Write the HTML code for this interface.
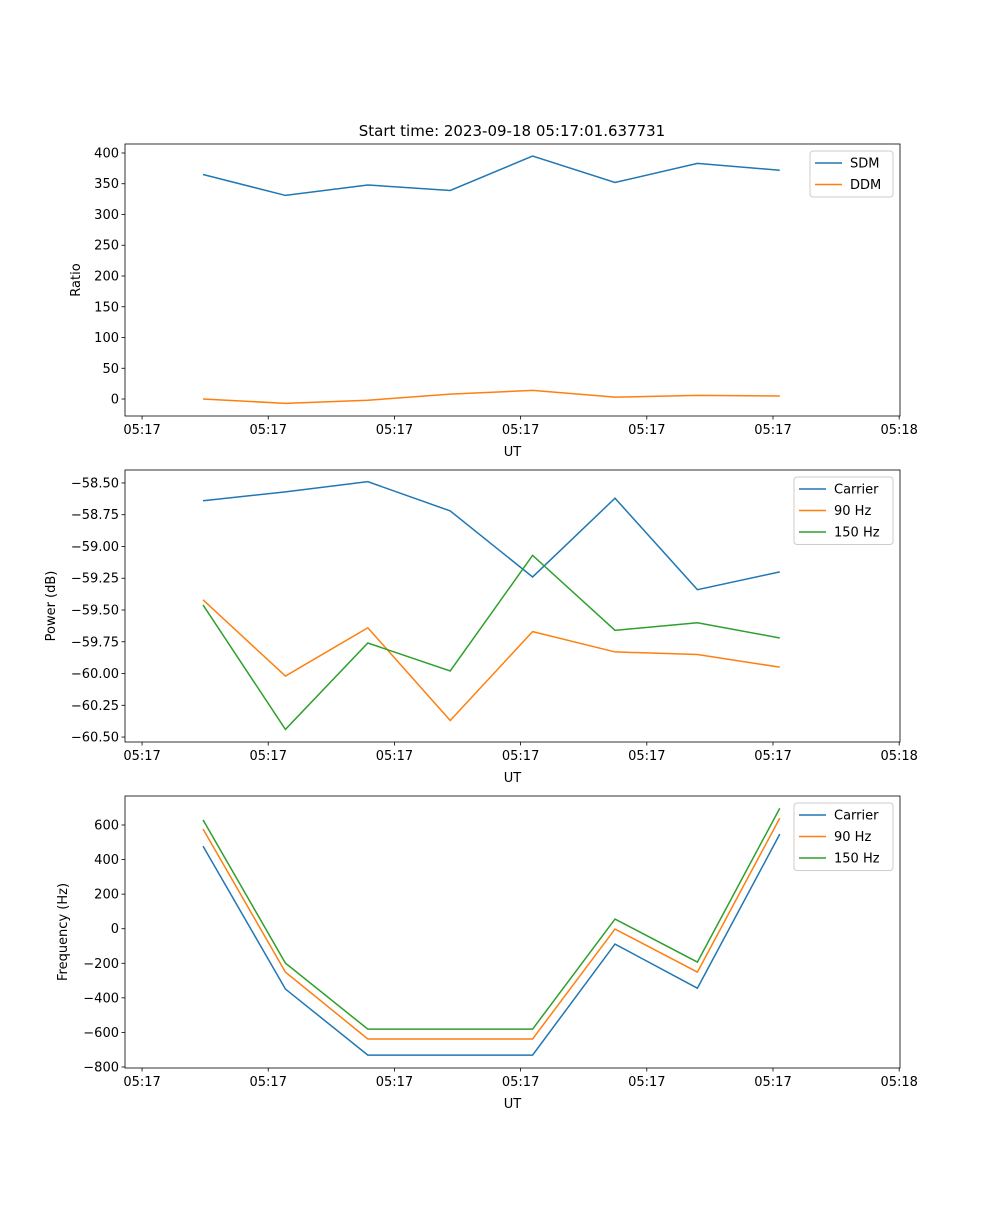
<!DOCTYPE html>
<html><head><meta charset="utf-8"><style>
body{margin:0;background:#fff}
svg text{font-family:"DejaVu Sans","Liberation Sans",sans-serif;font-size:13px;fill:#000}
</style></head><body>
<svg id="fig" width="1000" height="1200" xmlns="http://www.w3.org/2000/svg">
<text x="512" y="136" text-anchor="middle" font-size="15" style="font-size:15px">Start time: 2023-09-18 05:17:01.637731</text>
</svg>
<script>
const pointIdx=[0,1,2,3,4,5,6,7];
const xTickLabels=["05:17","05:17","05:17","05:17","05:17","05:17","05:18"];
const sdm=[365,331,348,339,395,352,383,372];
const ddm=[0,-7,-2,8,14,3,6,5];
const pwrCarrier=[-58.64,-58.57,-58.49,-58.72,-59.24,-58.62,-59.34,-59.20];
const pwr90=[-59.42,-60.02,-59.64,-60.37,-59.67,-59.83,-59.85,-59.95];
const pwr150=[-59.46,-60.44,-59.76,-59.98,-59.07,-59.66,-59.60,-59.72];
const frqCarrier=[478,-349,-731,-731,-731,-89,-344,547];
const frq90=[577,-251,-638,-638,-638,-2,-251,640];
const frq150=[630,-199,-581,-581,-581,56,-193,697];
const ticks1=[0,50,100,150,200,250,300,350,400];
const ticks2=[-58.5,-58.75,-59,-59.25,-59.5,-59.75,-60,-60.25,-60.5];
const ticks3=[600,400,200,0,-200,-400,-600,-800];

const NS="http://www.w3.org/2000/svg",svg=document.getElementById('fig');
const L=125,R=900,xmin=-0.947,xmax=8.459;
const X=v=>L+(v-xmin)/(xmax-xmin)*(R-L);
function el(t,a,p){const e=document.createElementNS(NS,t);for(const k in a)e.setAttribute(k,a[k]);(p||svg).appendChild(e);return e;}
const C=['#1f77b4','#ff7f0e','#2ca02c'];
function panel(name,top,bot,ymin,ymax,yt,fmt,ylabel,series,names,leg){
  const g=el('g',{});
  
  
  const Y=v=>bot-(v-ymin)/(ymax-ymin)*(bot-top);
  // series
  series.forEach((s,i)=>{
    const p=el('polyline',{points:s.map((v,j)=>X(pointIdx[j])+','+Y(v)).join(' '),fill:'none',stroke:C[i],'stroke-width':1.5},g);
    
    
  });
  const fr=el('rect',{x:L,y:top,width:R-L,height:bot-top,fill:'none',stroke:'#000','stroke-width':0.8},g);
  
  
  // y ticks
  yt.forEach(v=>{const y=Y(v);el('line',{x1:L-3.5,x2:L,y1:y,y2:y,stroke:'#000','stroke-width':0.8},g);
    const t=el('text',{x:L-6,y:y+4.5,'text-anchor':'end'},g);t.textContent=fmt(v);
    
    });
  // x ticks
  xTickLabels.forEach((lab,i)=>{const x=X(-0.740+i*1.5315);el('line',{x1:x,x2:x,y1:bot,y2:bot+3.5,stroke:'#000','stroke-width':0.8},g);
    const t=el('text',{x:x,y:bot+18,'text-anchor':'middle'},g);t.textContent=lab;
    
    });
  const xl=el('text',{x:(L+R)/2,y:bot+40,'text-anchor':'middle'},g);xl.textContent='UT';
  
  
  const yl=el('text',{x:0,y:0,'text-anchor':'middle',transform:`translate(${leg.yx},${(top+bot)/2}) rotate(-90)`},g);yl.textContent=ylabel;
  
  
  // legend
  const lg=el('g',{},g);
  
  
  el('rect',{x:leg.x,y:top+7,width:R-7-leg.x,height:names.length*21.5+3,rx:3,fill:'#fff',stroke:'#ccc','stroke-width':1},lg);
  names.forEach((n,i)=>{const y=top+19+i*21.5;
    el('line',{x1:leg.x+5,x2:leg.x+32,y1:y,y2:y,stroke:C[i],'stroke-width':1.5},lg);
    const t=el('text',{x:leg.x+40,y:y+4.5},lg);t.textContent=n;
    
    });
}
panel('ratio',144,416,-27.6,414.6,ticks1,v=>String(v),'Ratio',[sdm,ddm],['SDM','DDM'],{x:810,yx:80});
panel('power',470,742,-60.539,-58.398,ticks2,v=>(v<0?'\u2212':'')+Math.abs(v).toFixed(2),'Power (dB)',[pwrCarrier,pwr90,pwr150],['Carrier','90 Hz','150 Hz'],{x:794,yx:55});
panel('frequency',796,1068,-805.8,767.8,ticks3,v=>(v<0?'\u2212':'')+Math.abs(v),'Frequency (Hz)',[frqCarrier,frq90,frq150],['Carrier','90 Hz','150 Hz'],{x:794,yx:67});
</script>
</body></html>
